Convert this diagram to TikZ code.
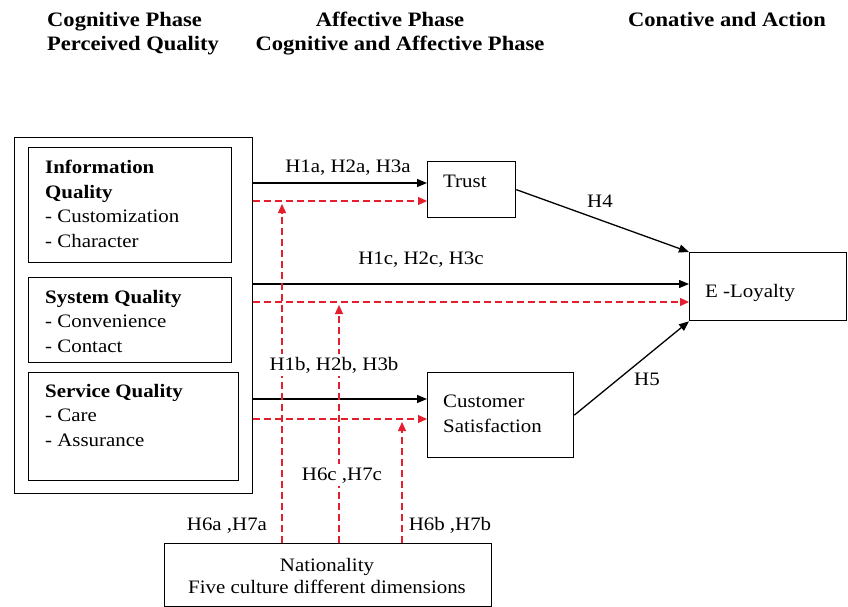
\documentclass[tikz,border=0pt]{standalone}
\usepackage{fontspec}
\setmainfont{Liberation Serif}[FakeStretch=1.1]
\usetikzlibrary{arrows.meta}
\definecolor{dred}{RGB}{228,30,45}
\begin{document}
\begin{tikzpicture}[x=1pt,y=-1pt,
  box/.style={draw, line width=1.3pt, anchor=north west, inner sep=0pt},
  txt/.style={font=\fontsize{19}{24.5}\selectfont, inner sep=0pt, align=left},
  hdr/.style={font=\fontsize{20.5}{25}\selectfont\bfseries, inner sep=0pt},
  lab/.style={font=\fontsize{19}{22}\selectfont, inner sep=0pt, anchor=base},
  blk/.style={line width=1.3pt, -{Triangle[length=10pt,width=8pt]}},
  mod/.style={dred, dash pattern=on 7pt off 4pt, line width=1.2pt, -{Triangle[length=9pt,width=8pt]}}
]
\useasboundingbox (0,0) rectangle (848,607);

% headers
\node[hdr, anchor=base west] (h1) at (47,27) {Cognitive Phase};
\node[hdr, anchor=base west] (h2) at (47,51) {Perceived Quality};
\node[hdr, anchor=base] (h3) at (390,27) {Affective Phase};
\node[hdr, anchor=base] (h4) at (400,51) {Cognitive and Affective Phase};
\node[hdr, anchor=base] (h5) at (727,27) {Conative and Action};

% boxes
\node[box, minimum width=238pt, minimum height=356pt] (outer) at (14,137) {};
\node[box, minimum width=203pt, minimum height=115pt] (info) at (28,147) {};
\node[box, minimum width=203pt, minimum height=85pt] (sys) at (28,277) {};
\node[box, minimum width=210pt, minimum height=108pt] (serv) at (28,372) {};
\node[box, minimum width=88pt, minimum height=56pt] (trust) at (427,161) {};
\node[box, minimum width=157pt, minimum height=68pt] (eloy) at (689,252) {};
\node[box, minimum width=146pt, minimum height=85pt] (cs) at (427,372) {};
\node[box, minimum width=327pt, minimum height=63pt] (nat) at (164,543) {};

% box texts
\node[txt, anchor=north west] (infot) at (45,160) {\textbf{Information}\\\textbf{Quality}\\- Customization\\- Character};
\node[txt, anchor=north west] (syst) at (45,290) {\textbf{System Quality}\\- Convenience\\- Contact};
\node[txt, anchor=north west] (servt) at (45,384) {\textbf{Service Quality}\\- Care\\- Assurance};
\node[txt, anchor=base west] (trustt) at (443,187) {Trust};
\node[txt, anchor=base west] (eloyt) at (705,297) {E -Loyalty};
\node[txt, anchor=base west] (cst1) at (443,407) {Customer};
\node[txt, anchor=base west] (cst2) at (443,432) {Satisfaction};
\node[txt, anchor=base] (natt1) at (327,571) {Nationality};
\node[txt, anchor=base] (natt2) at (327,593) {Five culture different dimensions};

% main arrows
\draw[blk] (outer.east |- 0,183) -- (trust.west |- 0,183);
\draw[mod] (outer.east |- 0,201) -- (trust.west |- 0,201);
\draw[blk] (outer.east |- 0,284) -- (eloy.west |- 0,284);
\draw[mod] (outer.east |- 0,302) -- (eloy.west |- 0,302);
\draw[blk] (outer.east |- 0,399) -- (cs.west |- 0,399);
\draw[mod] (outer.east |- 0,419) -- (cs.west |- 0,419);
\draw[blk] (trust.east) -- (eloy.north west);
\draw[blk] (cs.east) -- (eloy.south west);

% moderating arrows
\coordinate (ma) at (282,204);
\coordinate (mb) at (339,305);
\coordinate (mc) at (402,422);
\draw[mod] (nat.north -| ma) -- (ma);
\draw[mod] (nat.north -| mb) -- (mb);
\draw[mod] (nat.north -| mc) -- (mc);

% labels
\node[lab] (l1) at (348,172) {H1a, H2a, H3a};
\node[lab] (l2) at (421,264) {H1c, H2c, H3c};
\node[lab] (l3) at (600,207) {H4};
\node[lab] (l4) at (647,385) {H5};
\node[lab, fill=white, inner sep=3pt] (l5) at (334,370) {H1b, H2b, H3b};
\node[lab, fill=white, inner sep=3pt] (l6) at (342,480) {H6c ,H7c};
\node[lab] (l7) at (227,530) {H6a ,H7a};
\node[lab] (l8) at (450,530) {H6b ,H7b};
\end{tikzpicture}
\end{document}
